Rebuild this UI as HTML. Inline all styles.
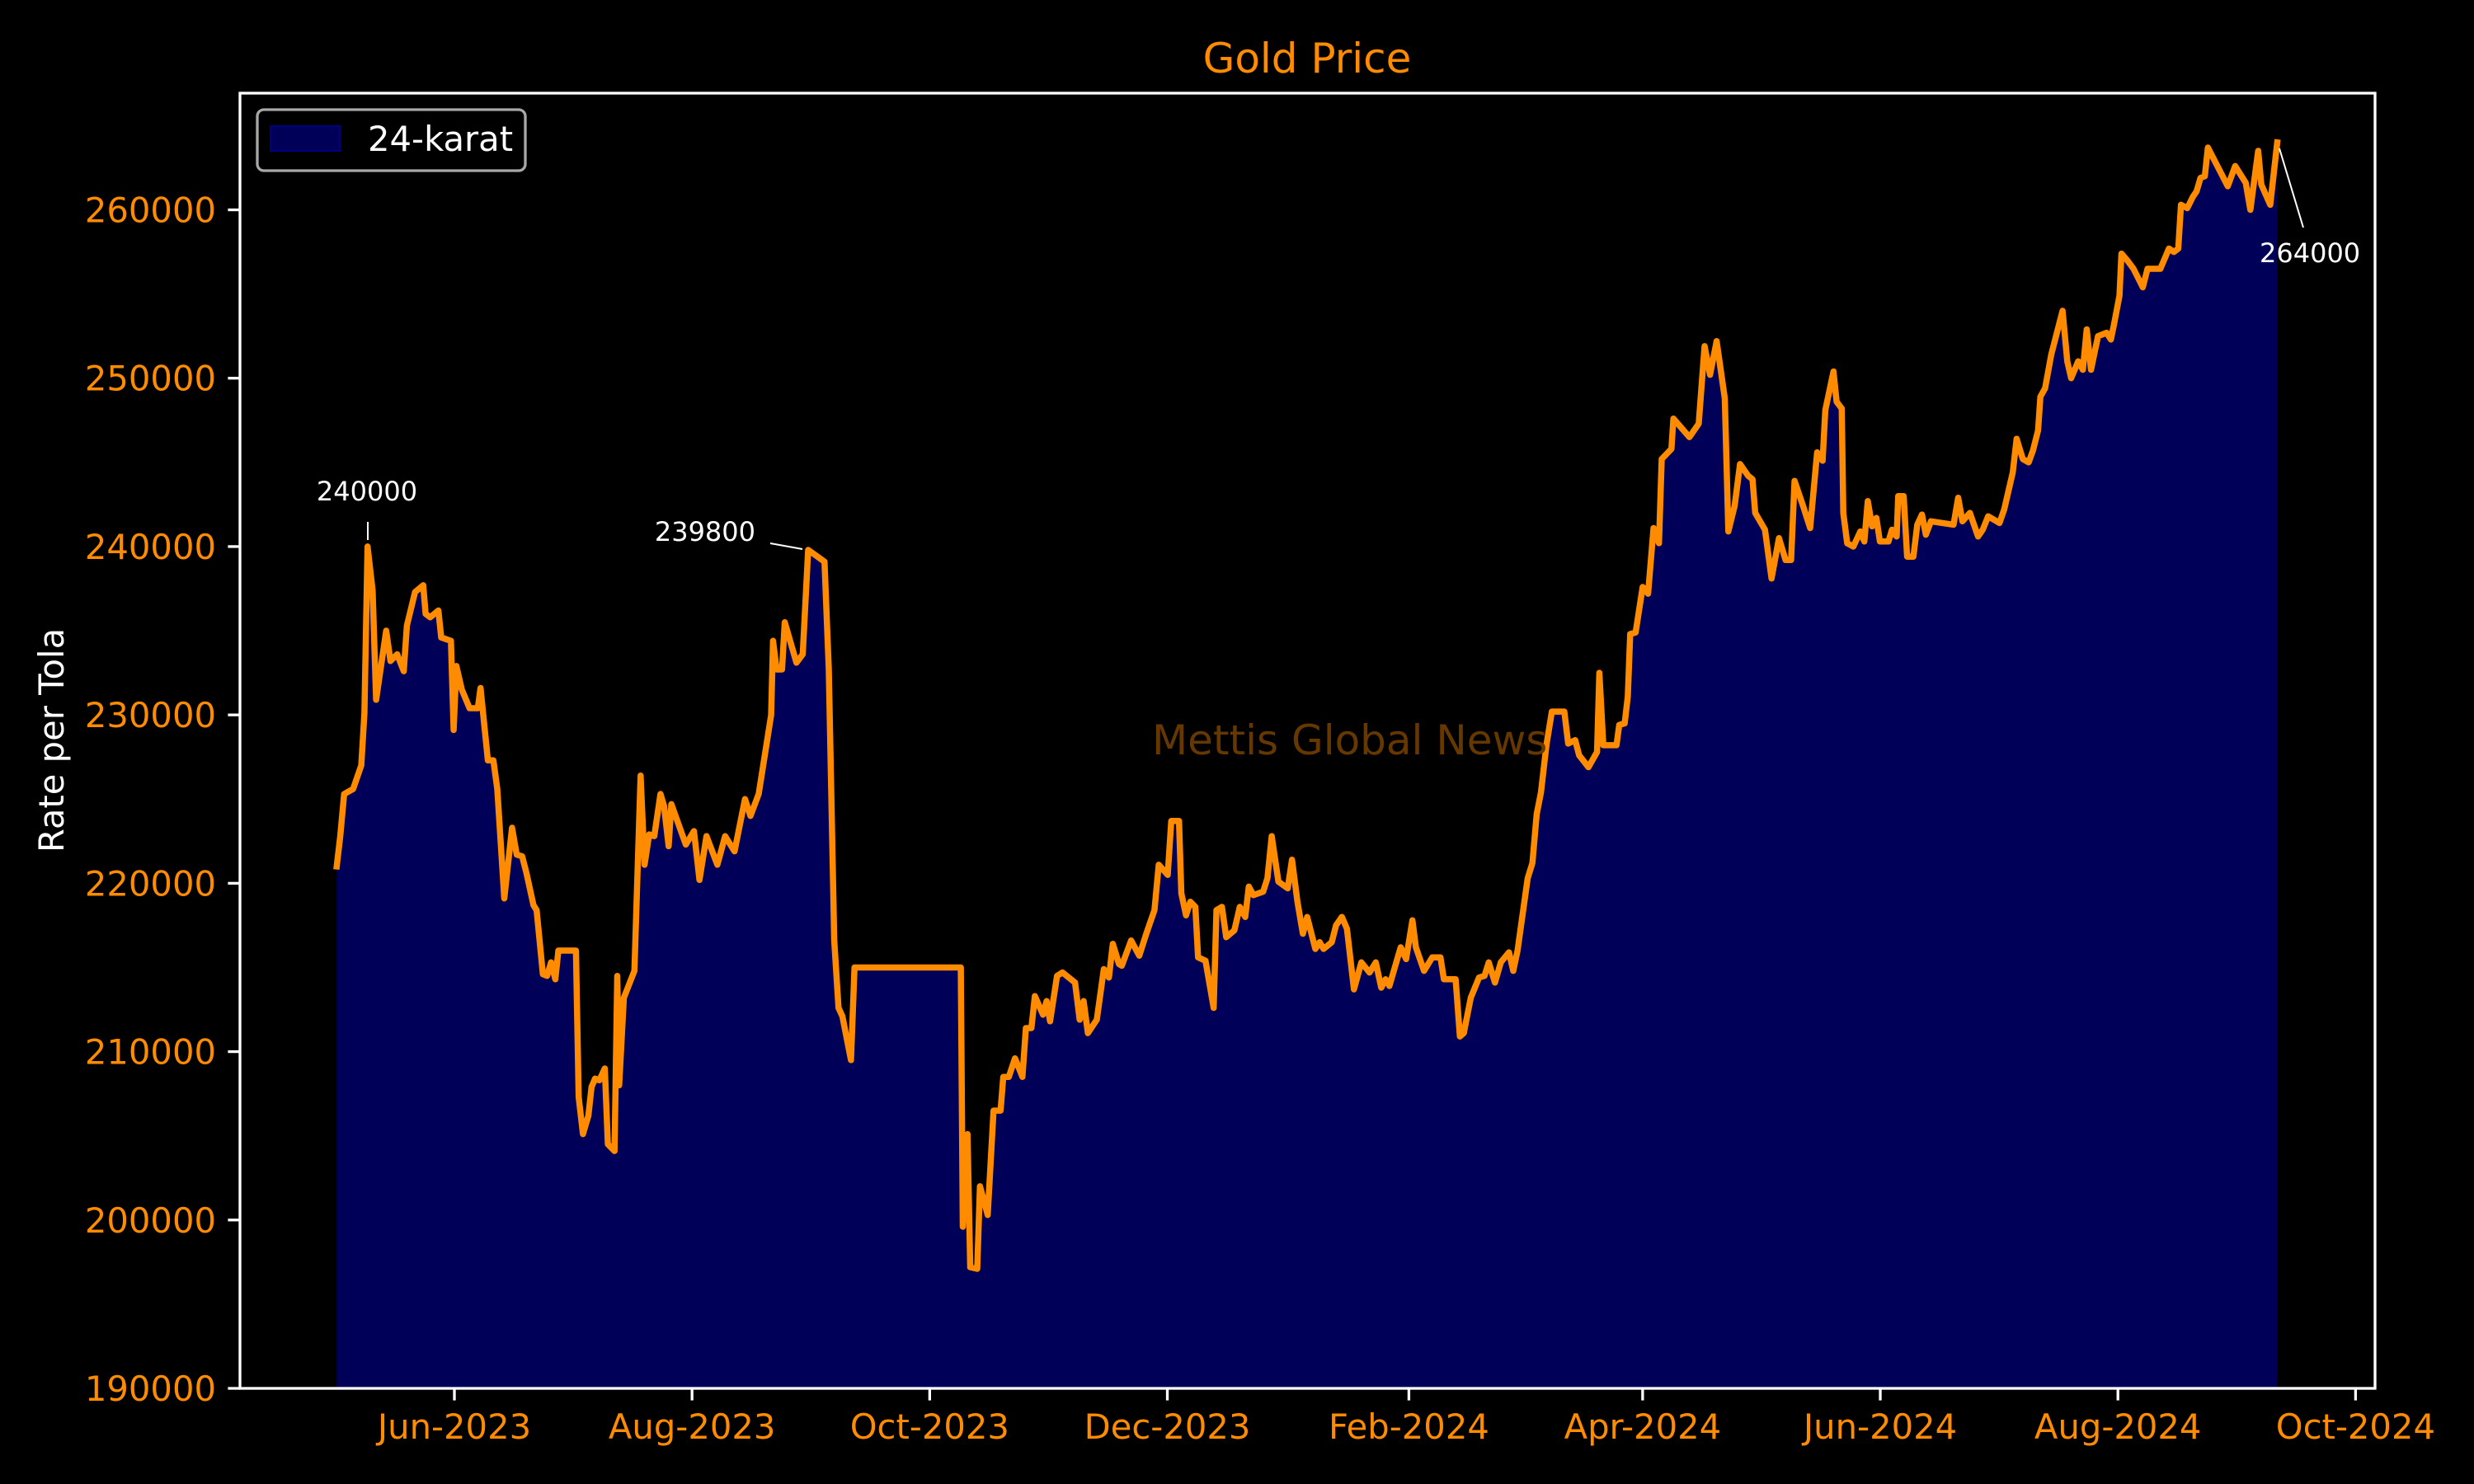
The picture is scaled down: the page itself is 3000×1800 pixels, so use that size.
<!DOCTYPE html>
<html><head><meta charset="utf-8"><title>Gold Price</title>
<style>
html,body{margin:0;padding:0;background:#000;}
svg{display:block;font-family:"DejaVu Sans","Liberation Sans",sans-serif;}
</style></head>
<body>
<svg id="chart" xmlns="http://www.w3.org/2000/svg" width="3000" height="1800" viewBox="0 0 3000 1800">
<rect x="0" y="0" width="3000" height="1800" fill="#000"/>
<g id="plot"></g>
</svg>
<script>
// days since 2023-06-01
const dayOffset = [-30.2,-29.3,-28.3,-26.0,-23.9,-23.1,-22.3,-21.0,-20.1,-17.5,-16.4,-14.7,-13.0,-12.2,-10.1,-8.0,-7.4,-6.2,-4.1,-3.4,-0.9,-0.2,0.5,1.9,3.9,6.0,6.7,8.6,10.0,11.0,12.8,14.8,16.0,17.4,18.5,20.3,21.1,22.7,23.8,24.8,25.9,26.7,31.2,31.9,33.0,34.4,35.2,36.1,37.2,38.6,39.4,41.1,41.8,42.3,43.5,46.2,47.8,48.8,50.0,51.3,52.9,53.8,55.0,55.7,59.4,61.5,62.9,64.7,67.5,69.5,71.9,74.6,76.0,78.1,81.3,81.8,82.7,84.1,84.8,87.8,89.4,90.8,95.0,96.1,97.5,98.6,99.6,101.8,102.7,130.0,130.5,131.7,132.4,134.2,134.9,136.9,138.4,140.2,140.9,142.3,143.9,145.8,146.7,148.1,149.0,151.1,152.0,152.9,154.7,156.1,159.3,160.5,161.5,162.6,164.9,166.7,168.0,169.0,170.6,171.3,173.7,175.8,177.6,179.7,180.8,183.1,184.0,186.0,186.6,187.8,188.9,190.2,190.9,192.8,194.9,195.6,197.0,198.1,200.2,201.6,203.0,203.9,205.1,207.6,208.7,209.8,211.5,213.9,215.0,216.4,217.8,218.9,221.0,222.1,223.1,225.2,226.3,227.8,229.1,230.9,232.8,234.9,236.5,237.9,239.0,240.0,242.9,244.3,245.9,246.8,248.9,251.0,253.1,254.0,257.0,258.1,259.1,260.9,263.0,264.4,265.5,267.1,268.6,270.7,271.8,272.9,275.5,276.7,277.8,278.9,280.3,281.7,284.9,285.9,287.7,288.7,291.1,293.3,293.9,294.9,298.3,299.0,300.4,301.2,301.8,303.2,305.0,306.4,307.8,309.2,309.9,312.4,312.9,317.0,319.4,320.9,322.3,324.0,326.1,327.0,328.6,330.0,332.1,333.2,333.9,336.4,338.1,340.0,341.7,343.1,344.0,346.2,348.0,349.8,351.2,351.9,354.0,354.8,356.1,356.5,357.5,359.1,360.9,361.9,362.8,363.9,365.0,365.9,368.1,369.0,370.2,370.6,372.0,372.9,374.5,375.5,376.7,377.7,379.0,384.8,386.0,387.1,389.0,391.1,392.3,393.7,396.6,397.8,400.0,401.0,402.6,404.1,405.2,406.5,407.1,408.3,409.9,412.8,414.0,415.0,416.8,418.0,419.0,420.1,421.9,424.1,425.2,426.0,427.4,427.9,429.4,431.0,433.4,434.6,437.9,440.1,441.4,442.5,443.2,444.8,446.3,447.2,448.2,449.3,450.1,455.2,457.1,459.8,461.0,463.0,463.8,466.1,467.9];
const goldRate = [221000,222800,225300,225600,227000,230100,240000,237400,230900,235000,233200,233600,232600,235300,237300,237700,236000,235800,236200,234600,234400,229100,232900,231500,230400,230400,231600,227300,227300,225600,219100,223300,221700,221600,220600,218700,218400,214600,214500,215300,214300,216000,216000,207300,205100,206200,207900,208400,208300,209000,204500,204100,214500,208000,213200,214800,226400,221100,222900,222800,225300,224600,222200,224700,222300,223100,220200,222800,221100,222800,221900,225000,224000,225300,230000,234400,232700,232700,235500,233100,233600,239800,239100,232700,216600,212600,212100,209500,215000,215000,199600,205100,197200,197100,202000,200300,206500,206500,208500,208500,209600,208500,211400,211400,213300,212200,213000,211800,214500,214700,214100,211900,213000,211100,211900,214900,214400,216400,215200,215100,216600,215700,217000,218400,221100,220500,223700,223700,219400,218100,218900,218600,215600,215400,212600,218400,218600,216800,217200,218600,218000,219800,219300,219500,220300,222800,220100,219700,221400,218900,217000,218000,216100,216500,216100,216500,217500,218000,217300,213700,215300,214700,215300,213800,214300,213900,216200,215500,217800,216200,214800,215600,215600,214300,214300,210900,211100,213200,214400,214500,215300,214100,215300,215900,214800,216000,220300,221200,224100,225400,228200,230200,230200,228300,228500,227600,226900,227800,232500,228200,228200,229400,229500,231100,234800,234900,237600,237200,241100,240200,245200,245800,247600,246500,247300,251900,250200,252200,248800,240900,242400,244900,244200,244000,242000,241000,238100,240500,239200,239200,243900,242400,241100,245600,245100,248100,250400,248600,248200,242000,240200,240000,240900,240300,242700,241200,241700,240300,240300,241000,240600,243000,243000,239400,239400,241300,241900,240700,241500,241300,242900,241500,242000,240600,241000,241800,241400,242200,244400,246400,245200,245000,245700,246900,248900,249400,251400,254000,251000,250000,251000,250500,252900,250500,252500,252700,252300,253200,254900,257400,257000,256500,255400,256500,256500,257700,257500,257700,260300,260100,260800,261100,261900,262000,263700,261400,262600,261600,260000,263500,261500,260300,264000];
const yTicks = [190000,200000,210000,220000,230000,240000,250000,260000];
const xTickDays = [0,61,122,183,245,305,366,427,488];
const xTickLabels = ["Jun-2023","Aug-2023","Oct-2023","Dec-2023","Feb-2024","Apr-2024","Jun-2024","Aug-2024","Oct-2024"];
const annotValues = [240000,239800,264000];

const NS = "http://www.w3.org/2000/svg";
const L = 291, R = 2880, T = 113, B = 1684;
const xDom = [-55.04, 493.0], yDom = [190000, 266930];
function xs(d){ return L + (d - xDom[0]) / (xDom[1] - xDom[0]) * (R - L); }
function ys(v){ return B - (v - yDom[0]) / (yDom[1] - yDom[0]) * (B - T); }
const svg = document.getElementById('chart');
const plot = document.getElementById('plot');
function mk(tag, attrs, parent, text){
  const e = document.createElementNS(NS, tag);
  for (const k in attrs) e.setAttribute(k, attrs[k]);
  if (text !== undefined) e.textContent = text;
  (parent || svg).appendChild(e);
  return e;
}

// area + line
let pts = dayOffset.map((d,i)=> xs(d).toFixed(1)+","+ys(goldRate[i]).toFixed(1));
const area = mk('polygon', {points: xs(dayOffset[0]).toFixed(1)+","+B+" "+pts.join(" ")+" "+xs(dayOffset[dayOffset.length-1]).toFixed(1)+","+B, fill:'#000058'}, plot);


const line = mk('polyline', {points: pts.join(" "), fill:'none', stroke:'#ff8c00', 'stroke-width':7.5, 'stroke-linejoin':'round', 'stroke-linecap':'square'}, plot);



// watermark
const wm = mk('text', {x:1397, y:915, fill:'#663800', 'font-size':50}, plot, 'Mettis Global News');



// frame
const frame = mk('rect', {x:L, y:T, width:R-L, height:B-T, fill:'none', stroke:'#fff', 'stroke-width':3.3});



// y ticks
yTicks.forEach(v=>{
  const y = ys(v);
  const t = mk('line', {x1:L-14.6, x2:L, y1:y, y2:y, stroke:'#fff', 'stroke-width':3.3});
  
  
  const lb = mk('text', {x:L-29, y:y+15, fill:'#ff8c00', 'font-size':41.7, 'text-anchor':'end'}, svg, String(v));
  
  
});
// x ticks
xTickDays.forEach((d,i)=>{
  const x = xs(d);
  const t = mk('line', {x1:x, x2:x, y1:B, y2:B+14.6, stroke:'#fff', 'stroke-width':3.3});
  
  
  const lb = mk('text', {x:x, y:B+61, fill:'#ff8c00', 'font-size':41.7, 'text-anchor':'middle'}, svg, xTickLabels[i]);
  
  
});

// titles
const title = mk('text', {x:1585, y:88, fill:'#ff8c00', 'font-size':50, 'text-anchor':'middle'}, svg, 'Gold Price');


const yt = mk('text', {x:0, y:0, fill:'#fff', 'font-size':41.7, 'text-anchor':'middle', transform:'translate(77,898) rotate(-90)'}, svg, 'Rate per Tola');



// annotations
const a1 = mk('text', {x:445, y:607, fill:'#fff', 'font-size':32, 'text-anchor':'middle'}, svg, String(annotValues[0]));


const l1 = mk('line', {x1:446, y1:633, x2:446, y2:655, stroke:'#fff', 'stroke-width':2});


const a2 = mk('text', {x:916, y:656, fill:'#fff', 'font-size':32, 'text-anchor':'end'}, svg, String(annotValues[1]));


const l2 = mk('line', {x1:934, y1:659, x2:973, y2:666, stroke:'#fff', 'stroke-width':2});


const a3 = mk('text', {x:2740, y:318, fill:'#fff', 'font-size':32}, svg, String(annotValues[2]));


const l3 = mk('line', {x1:2764, y1:180, x2:2793, y2:276, stroke:'#fff', 'stroke-width':2});



// legend
const lg = mk('g', {});


const lbx = mk('rect', {x:312, y:133, width:325, height:74, rx:8, fill:'#000', stroke:'#a8a8a8', 'stroke-width':3.3}, lg);


const lp = mk('rect', {x:328, y:153, width:84, height:30, fill:'#000058', stroke:'#000080', 'stroke-width':2}, lg);


const lt = mk('text', {x:446, y:183, fill:'#fff', 'font-size':41.7}, lg, '24-karat');


</script>
</body></html>
